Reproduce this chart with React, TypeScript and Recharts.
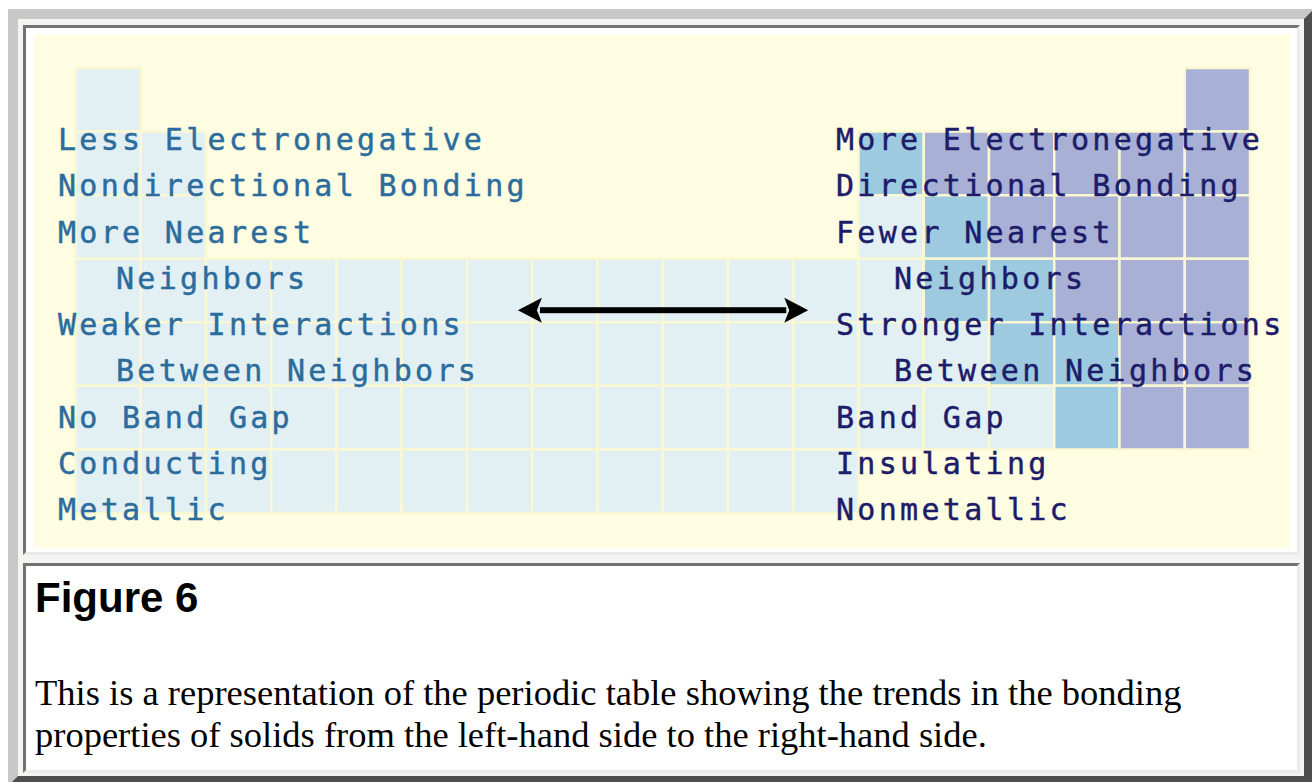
import React from 'react';
import { ScatterChart, XAxis, YAxis, ReferenceArea, ReferenceLine } from 'recharts';

// 0 = no element, 1 = metal, 2 = metalloid, 3 = nonmetal
const period1 = [1, 0, 0, 0, 0, 0, 0, 0, 0, 0, 0, 0, 0, 0, 0, 0, 0, 3];
const period2 = [1, 1, 0, 0, 0, 0, 0, 0, 0, 0, 0, 0, 2, 3, 3, 3, 3, 3];
const period3 = [1, 1, 0, 0, 0, 0, 0, 0, 0, 0, 0, 0, 1, 2, 3, 3, 3, 3];
const period4 = [1, 1, 1, 1, 1, 1, 1, 1, 1, 1, 1, 1, 1, 2, 2, 3, 3, 3];
const period5 = [1, 1, 1, 1, 1, 1, 1, 1, 1, 1, 1, 1, 1, 1, 2, 2, 3, 3];
const period6 = [1, 1, 1, 1, 1, 1, 1, 1, 1, 1, 1, 1, 1, 1, 1, 2, 3, 3];
const period7 = [1, 1, 1, 1, 1, 1, 1, 1, 1, 1, 1, 1, 0, 0, 0, 0, 0, 0];
const periods = [period1, period2, period3, period4, period5, period6, period7];

const kindColors: Record<number, string> = {
  1: '#e2f0f4',
  2: '#9ecae0',
  3: '#a9b0d6',
};

// [text, indented]
const leftLabels: [string, boolean][] = [
  ['Less Electronegative', false],
  ['Nondirectional Bonding', false],
  ['More Nearest', false],
  ['Neighbors', true],
  ['Weaker Interactions', false],
  ['Between Neighbors', true],
  ['No Band Gap', false],
  ['Conducting', false],
  ['Metallic', false],
];
const rightLabels: [string, boolean][] = [
  ['More Electronegative', false],
  ['Directional Bonding', false],
  ['Fewer Nearest', false],
  ['Neighbors', true],
  ['Stronger Interactions', false],
  ['Between Neighbors', true],
  ['Band Gap', false],
  ['Insulating', false],
  ['Nonmetallic', false],
];

// arrow runs between these column positions on this row position
const arrowFrom = 7.28;
const arrowTo = 11.73;
const arrowRow = 4.31;

const captionTitle = 'Figure 6';
const captionLines = [
  'This is a representation of the periodic table showing the trends in the bonding',
  'properties of solids from the left-hand side to the right-hand side.',
];

const cells = periods.flatMap((row, r) =>
  row.map((kind, c) => ({ row: r + 1, col: c + 1, kind })).filter(d => d.kind > 0)
);

const Arrow = (props: any) => {
  const { x1, y1, x2 } = props;
  const head = 24;
  const half = 12.5;
  const shaft = 3;
  return (
    <g fill="#000">
      <rect x={x1 + head - 2} y={y1 - shaft} width={x2 - x1 - 2 * head + 4} height={shaft * 2} />
      <polygon points={`${x1},${y1} ${x1 + head},${y1 - half} ${x1 + head - 5},${y1} ${x1 + head},${y1 + half}`} />
      <polygon points={`${x2},${y1} ${x2 - head},${y1 - half} ${x2 - head + 5},${y1} ${x2 - head},${y1 + half}`} />
    </g>
  );
};

const labelFont = {
  fontFamily: '"DejaVu Sans Mono", monospace',
  fontSize: 30,
  letterSpacing: 3.3,
  strokeWidth: 0.45,
};

const App: React.FC = () => {
  return (
    <div style={{ position: 'absolute', left: 0, top: 0, width: 1312, height: 782, overflow: 'hidden', background: '#fff' }}>
      {/* outer frame */}
      <div
        style={{
          position: 'absolute', left: 8, top: 9, width: 1306, height: 777, boxSizing: 'border-box',
          borderStyle: 'solid', borderWidth: 10,
          borderColor: '#c8c8c8 #4e4e4e #4e4e4e #c8c8c8',
          background: '#f4f4f2',
        }}
      />
      {/* figure cell */}
      <div
        style={{
          position: 'absolute', left: 23, top: 25, width: 1277, height: 530, boxSizing: 'border-box',
          borderStyle: 'solid', borderWidth: 3,
          borderColor: '#737373 #ebebeb #ebebeb #737373',
          background: '#fff',
        }}
      />
      {/* caption cell */}
      <div
        style={{
          position: 'absolute', left: 23, top: 563, width: 1277, height: 210, boxSizing: 'border-box',
          borderStyle: 'solid', borderWidth: 3,
          borderColor: '#737373 #ebebeb #ebebeb #737373',
          background: '#fff',
        }}
      />
      <div style={{ position: 'absolute', left: 34, top: 35, width: 1256, height: 513, background: '#fefde1' }}>
        <ScatterChart width={1256} height={513} margin={{ top: 33, right: 40, bottom: 35, left: 41.5 }}>
          <XAxis type="number" dataKey="col" domain={[0.5, 18.5]} hide allowDataOverflow />
          <YAxis type="number" dataKey="row" domain={[0.5, 7.5]} reversed hide allowDataOverflow />
          {cells.map(d => (
            <ReferenceArea
              key={`${d.row}-${d.col}`}
              x1={d.col - 0.5}
              x2={d.col + 0.5}
              y1={d.row - 0.5}
              y2={d.row + 0.5}
              fill={kindColors[d.kind]}
              fillOpacity={1}
              stroke="#faf8d2"
              strokeWidth={2.5}
              ifOverflow="visible"
            />
          ))}
          <ReferenceLine
            segment={[{ x: arrowFrom, y: arrowRow }, { x: arrowTo, y: arrowRow }]}
            shape={Arrow}
            ifOverflow="visible"
          />
        </ScatterChart>
      </div>
      {/* text */}
      <svg width={1312} height={782} style={{ position: 'absolute', left: 0, top: 0, pointerEvents: 'none' }}>
        {leftLabels.map(([t, indent], i) => (
          <text key={`l${i}`} x={indent ? 116 : 58} y={150 + i * 46.25} fill="#2c6c9d" stroke="#2c6c9d" {...labelFont}>
            {t}
          </text>
        ))}
        {rightLabels.map(([t, indent], i) => (
          <text key={`r${i}`} x={indent ? 894 : 836} y={150 + i * 46.25} fill="#1c1c6a" stroke="#1c1c6a" {...labelFont}>
            {t}
          </text>
        ))}
        <text x={35} y={612} fontFamily='"Liberation Sans", Arial, sans-serif' fontWeight="bold" fontSize={42} fill="#000">
          {captionTitle}
        </text>
        {captionLines.map((t, i) => (
          <text key={`c${i}`} x={35} y={705 + i * 42} fontFamily='"Liberation Serif", "Times New Roman", serif' fontSize={36.5} fill="#000">
            {t}
          </text>
        ))}
      </svg>
    </div>
  );
};

export default App;
